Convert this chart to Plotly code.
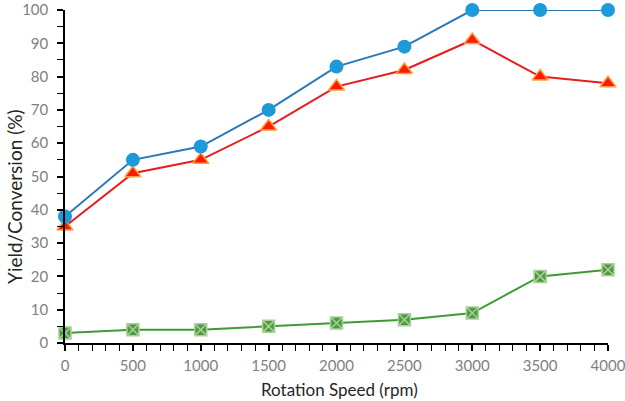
import plotly.graph_objects as go

speed = [0, 500, 1000, 1500, 2000, 2500, 3000, 3500, 4000]
conversion = [38, 55, 59, 70, 83, 89, 100, 100, 100]
yield_main = [35, 51, 55, 65, 77, 82, 91, 80, 78]
yield_side = [3, 4, 4, 5, 6, 7, 9, 20, 22]
y_ticks = [0, 10, 20, 30, 40, 50, 60, 70, 80, 90, 100]
x_title = "Rotation Speed (rpm)"
y_title = "Yield/Conversion (%)"

fig = go.Figure()
fig.add_trace(go.Scatter(
    x=speed, y=yield_side, mode="lines+markers", cliponaxis=False,
    line=dict(color="#3e9a34", width=2),
    marker=dict(symbol="square-x", size=12, color="#4e9a43",
                line=dict(color="#a8d098", width=1.5)),
))
fig.add_trace(go.Scatter(
    x=speed, y=yield_main, mode="lines+markers", cliponaxis=False,
    line=dict(color="#e81c1c", width=2),
    marker=dict(symbol="triangle-up", size=14, color="#ff1a00",
                line=dict(color="#ffa040", width=1.5)),
))
fig.add_trace(go.Scatter(
    x=speed, y=conversion, mode="lines+markers", cliponaxis=False,
    line=dict(color="#2a78b8", width=2),
    marker=dict(symbol="circle", size=14, color="#1e9ad8"),
))

font = "Lato, 'Open Sans', sans-serif"
fig.update_layout(
    width=625, height=401,
    margin=dict(l=65, r=17, t=10, b=58),
    paper_bgcolor="white", plot_bgcolor="white",
    showlegend=False,
    font=dict(family=font, size=15, color="#7f7f7f"),
    annotations=[
        dict(text=x_title, xref="paper", yref="paper", x=0.506, y=-0.14,
             xanchor="center", yanchor="middle", showarrow=False,
             font=dict(size=17, color="#262626")),
        dict(text=y_title, xref="paper", yref="paper", x=-0.093, y=0.44,
             xanchor="center", yanchor="middle", showarrow=False, textangle=-90,
             font=dict(size=19, color="#262626")),
    ],
)
fig.update_xaxes(
    range=[0, 4000], tickvals=speed, ticktext=[str(s) for s in speed],
    showgrid=False, zeroline=False, automargin=False,
    showline=True, linecolor="black", linewidth=1.5,
    ticks="outside", ticklen=6, tickcolor="black", tickwidth=1.5,
    minor=dict(dtick=100, ticks="outside", ticklen=6, tickcolor="black", tickwidth=1.2),
    tickfont=dict(size=15, color="#7f7f7f"),
    ticklabelstandoff=2, ticklabeloverflow="allow",
)
fig.update_yaxes(
    range=[0, 100], tickvals=y_ticks,
    showgrid=False, zeroline=False, automargin=False,
    showline=True, linecolor="black", linewidth=1.5,
    ticks="outside", ticklen=6, tickcolor="black", tickwidth=1.5,
    minor=dict(dtick=5, ticks="outside", ticklen=6, tickcolor="black", tickwidth=1.2),
    tickfont=dict(size=15, color="#7f7f7f"),
    ticklabelstandoff=6, ticklabeloverflow="allow",
)
fig.write_html("out.html", config={"displayModeBar": False},
               post_script="document.body.style.margin='0';")
